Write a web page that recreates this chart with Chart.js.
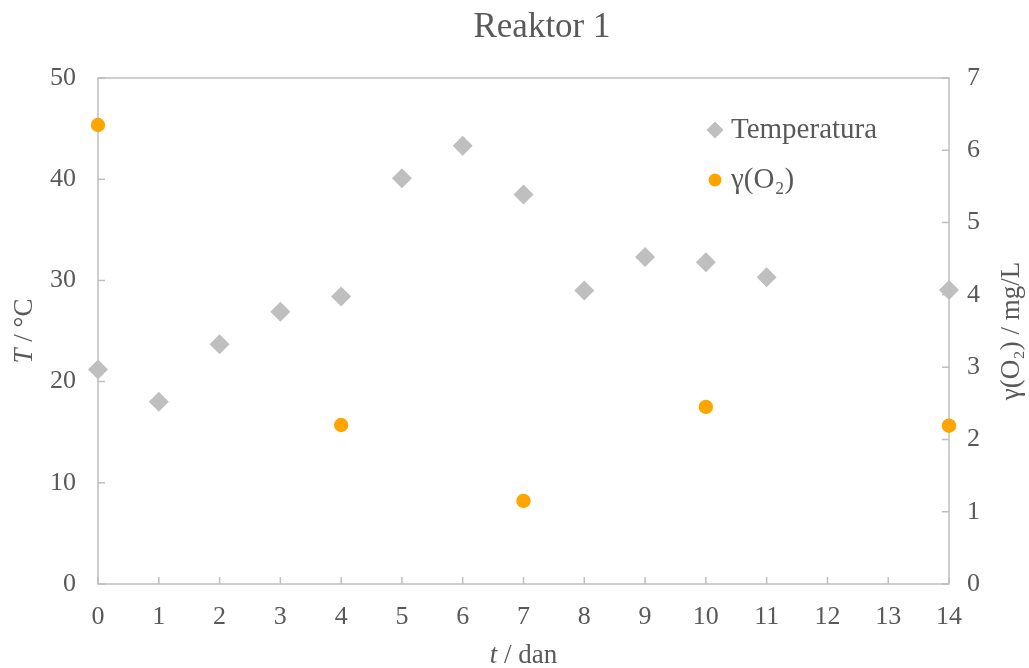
<!DOCTYPE html>
<html>
<head>
<meta charset="utf-8">
<script src="https://cdn.jsdelivr.net/npm/chart.js@4.4.0/dist/chart.umd.min.js"></script>
<style>
html, body { margin: 0; padding: 0; background: #fff; }
</style>
</head>
<body>
<canvas id="reaktorChart" width="1029" height="668"></canvas>
<script>
const days = [0, 1, 2, 3, 4, 5, 6, 7, 8, 9, 10, 11, 14];
const temperature = [21.2, 18.0, 23.7, 26.9, 28.4, 40.1, 43.3, 38.5, 29.0, 32.3, 31.8, 30.3, 29.05];
const o2Days = [0, 4, 7, 10, 14];
const o2Values = [6.35, 2.2, 1.15, 2.45, 2.19];

const chartTitle = 'Reaktor 1';
const seriesNames = ['Temperatura', 'γ(O₂)'];
const xTitle = ['t', ' / dan'];
const yLeftTitle = ['T', ' / °C'];
const yRightTitle = 'γ(O₂) / mg/L';

const FONT = '"Liberation Serif", "Times New Roman", serif';
const TXT = '#595959';
const AXIS = '#bfbfbf';

// draws "italic + normal" text centred on 0,0
function mixedText(ctx, parts, size) {
  ctx.font = 'italic ' + size + 'px ' + FONT;
  const w1 = ctx.measureText(parts[0]).width;
  ctx.font = size + 'px ' + FONT;
  const w2 = ctx.measureText(parts[1]).width;
  let x = -(w1 + w2) / 2;
  ctx.textAlign = 'left';
  ctx.textBaseline = 'middle';
  ctx.font = 'italic ' + size + 'px ' + FONT;
  ctx.fillText(parts[0], x, 0);
  ctx.font = size + 'px ' + FONT;
  ctx.fillText(parts[1], x + w1, 0);
}

const frame = {
  id: 'frame',
  beforeDatasetsDraw(chart) {
    const ctx = chart.ctx;
    const a = chart.chartArea;
    const sx = chart.scales.x, sy = chart.scales.y, sy2 = chart.scales.y2;
    ctx.save();
    ctx.strokeStyle = AXIS;
    ctx.lineWidth = 1.5;
    ctx.strokeRect(a.left, a.top, a.right - a.left, a.bottom - a.top);
    ctx.beginPath();
    sx.ticks.forEach(t => {
      const p = sx.getPixelForValue(t.value);
      ctx.moveTo(p, a.bottom); ctx.lineTo(p, a.bottom - 7);
    });
    sy.ticks.forEach(t => {
      const p = sy.getPixelForValue(t.value);
      ctx.moveTo(a.left, p); ctx.lineTo(a.left + 7, p);
    });
    sy2.ticks.forEach(t => {
      const p = sy2.getPixelForValue(t.value);
      ctx.moveTo(a.right, p); ctx.lineTo(a.right - 7, p);
    });
    ctx.stroke();
    ctx.restore();
  },
  afterDraw(chart) {
    const ctx = chart.ctx;
    const a = chart.chartArea;
    ctx.save();
    ctx.fillStyle = TXT;

    // title
    ctx.font = '35px ' + FONT;
    ctx.textAlign = 'center';
    ctx.textBaseline = 'middle';
    ctx.fillText(chartTitle, 542, 28);

    // x title
    ctx.save();
    ctx.translate((a.left + a.right) / 2, 656);
    mixedText(ctx, xTitle, 27);
    ctx.restore();

    // left y title
    ctx.save();
    ctx.translate(25, (a.top + a.bottom) / 2);
    ctx.rotate(-Math.PI / 2);
    mixedText(ctx, yLeftTitle, 27);
    ctx.restore();

    // right y title
    ctx.save();
    ctx.translate(1012, (a.top + a.bottom) / 2);
    ctx.rotate(-Math.PI / 2);
    ctx.font = '27px ' + FONT;
    ctx.textAlign = 'center';
    ctx.textBaseline = 'middle';
    ctx.fillText(yRightTitle, 0, 0);
    ctx.restore();

    // legend
    const rows = [130, 180];
    chart.data.datasets.forEach((ds, i) => {
      ctx.fillStyle = ds.backgroundColor;
      Chart.helpers.drawPoint(ctx, {
        pointStyle: ds.pointStyle,
        radius: ds.pointStyle === 'rectRot' ? 8.5 : 6.5,
        rotation: 0,
        borderWidth: 0
      }, 715, rows[i]);
      ctx.fillStyle = TXT;
      ctx.font = '29px ' + FONT;
      ctx.textAlign = 'left';
      ctx.textBaseline = 'middle';
      ctx.fillText(ds.label, 731, rows[i]);
    });
    ctx.restore();
  }
};

new Chart(document.getElementById('reaktorChart'), {
  type: 'scatter',
  data: {
    datasets: [
      {
        label: seriesNames[0],
        data: days.map((d, i) => ({ x: d, y: temperature[i] })),
        yAxisID: 'y',
        pointStyle: 'rectRot',
        pointRadius: 10,
        pointHoverRadius: 10,
        backgroundColor: '#bfbfbf',
        borderColor: '#bfbfbf',
        borderWidth: 0,
        clip: false
      },
      {
        label: seriesNames[1],
        data: o2Days.map((d, i) => ({ x: d, y: o2Values[i] })),
        yAxisID: 'y2',
        pointStyle: 'circle',
        pointRadius: 7.2,
        pointHoverRadius: 7.2,
        backgroundColor: '#ffa500',
        borderColor: '#ffa500',
        borderWidth: 0,
        clip: false
      }
    ]
  },
  options: {
    responsive: false,
    animation: false,
    events: [],
    layout: { padding: { top: 78, left: 0, right: 0, bottom: 0 } },
    plugins: {
      legend: { display: false },
      title: { display: false },
      tooltip: { enabled: false }
    },
    scales: {
      x: {
        type: 'linear',
        min: 0, max: 14,
        ticks: { stepSize: 1, color: TXT, font: { family: FONT, size: 26 }, padding: 18 },
        grid: { display: false, drawTicks: false },
        border: { display: false },
        afterFit: s => { s.height = 84; }
      },
      y: {
        position: 'left',
        min: 0, max: 50,
        ticks: { stepSize: 10, color: TXT, font: { family: FONT, size: 26 }, padding: 22 },
        grid: { display: false, drawTicks: false },
        border: { display: false },
        afterFit: s => { s.width = 98; }
      },
      y2: {
        position: 'right',
        min: 0, max: 7,
        ticks: { stepSize: 1, color: TXT, font: { family: FONT, size: 26 }, padding: 18 },
        grid: { display: false, drawTicks: false },
        border: { display: false },
        afterFit: s => { s.width = 80; }
      }
    }
  },
  plugins: [frame]
});
</script>
</body>
</html>
